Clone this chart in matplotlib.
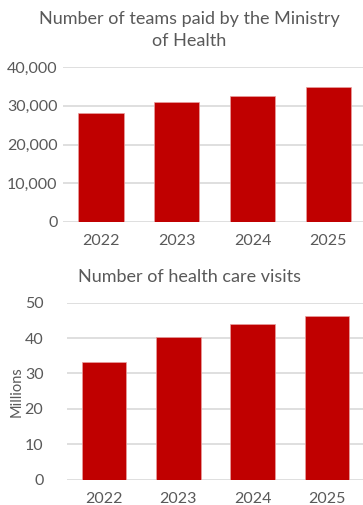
import matplotlib
matplotlib.use("Agg")
import matplotlib.pyplot as plt
from matplotlib.ticker import FuncFormatter

# Data
years = ["2022", "2023", "2024", "2025"]
teams_paid = [28100, 30900, 32500, 34900]
visits_millions = [33.2, 40.2, 44.1, 46.3]

bar_color = "#C00000"
text_color = "#595959"
grid_color = "#D9D9D9"

plt.rcParams["font.family"] = ["Lato", "DejaVu Sans"]

fig = plt.figure(figsize=(3.63, 5.05), dpi=100)


def style_axes(ax, ymax, step, ypad):
    ax.set_ylim(0, ymax)
    ax.set_yticks(range(0, ymax + 1, step))
    ax.set_xlim(-0.5, 3.5)
    ax.grid(axis="y", color=grid_color, linewidth=1.2)
    ax.set_axisbelow(True)
    for s in ax.spines.values():
        s.set_visible(False)
    ax.tick_params(axis="both", length=0, colors=text_color, labelsize=11.5)
    ax.tick_params(axis="y", pad=ypad)
    ax.tick_params(axis="x", pad=9)


# Top chart: teams paid
ax1 = fig.add_axes([0.1736, 0.5604, 0.835, 0.3069])
ax1.bar(years, teams_paid, width=0.6, color=bar_color, edgecolor="#E8A0A0", linewidth=0.5)
style_axes(ax1, 40000, 10000, 4)
ax1.yaxis.set_major_formatter(FuncFormatter(lambda v, p: f"{int(v):,}"))
fig.text(189 / 363, 1 - 30 / 505, "Number of teams paid by the Ministry\nof Health",
         ha="center", va="center", color=text_color, fontsize=13, linespacing=1.4)

# Bottom chart: visits
ax2 = fig.add_axes([0.1846, 0.0501, 0.818, 0.3505])
ax2.bar(years, visits_millions, width=0.6, color=bar_color, edgecolor="#E8A0A0", linewidth=0.5)
style_axes(ax2, 50, 10, 17)
ax2.set_ylabel("Millions", color=text_color, fontsize=10.5, labelpad=1)
fig.text(189 / 363, 1 - 277 / 505, "Number of health care visits",
         ha="center", va="center", color=text_color, fontsize=13)

fig.savefig("out.png", dpi=100)
